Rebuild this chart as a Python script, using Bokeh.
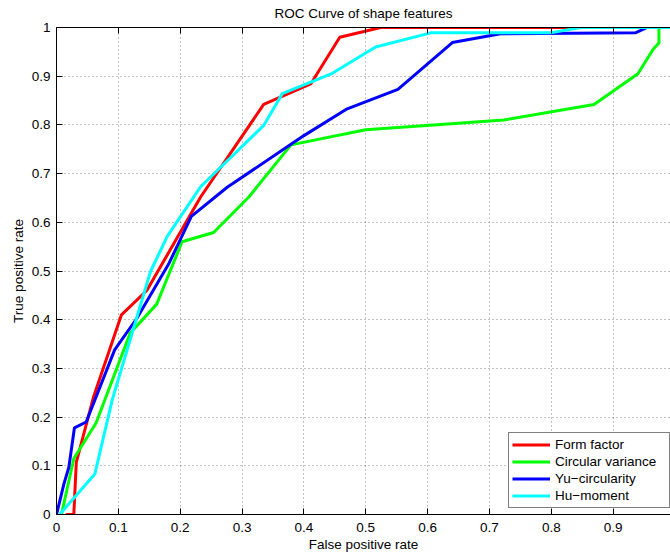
from bokeh.plotting import figure
from bokeh.models import (FixedTicker, NumeralTickFormatter, LinearAxis, Range1d,
                          Legend, LegendItem, CustomJSTickFormatter)
from bokeh.embed import file_html
from bokeh.resources import INLINE

# ---- data ----
form_fpr = [0.015, 0.028, 0.032, 0.06, 0.105, 0.146, 0.233, 0.335, 0.411, 0.458, 0.524, 1.0]
form_tpr = [0.0, 0.0, 0.107, 0.242, 0.41, 0.46, 0.652, 0.842, 0.884, 0.98, 1.0, 1.0]

circ_fpr = [0.008, 0.028, 0.064, 0.119, 0.162, 0.203, 0.254, 0.311, 0.379, 0.5, 0.621,
            0.723, 0.869, 0.94, 0.965, 0.974, 0.974, 1.0]
circ_tpr = [0.0, 0.115, 0.188, 0.372, 0.432, 0.560, 0.579, 0.652, 0.759, 0.79, 0.801,
            0.81, 0.842, 0.905, 0.956, 0.968, 1.0, 1.0]

yu_fpr = [0.0, 0.012, 0.02, 0.029, 0.048, 0.094, 0.13, 0.182, 0.218, 0.276, 0.4, 0.47,
          0.552, 0.64, 0.718, 0.936, 0.955, 1.0]
yu_tpr = [0.0, 0.063, 0.097, 0.178, 0.19, 0.338, 0.403, 0.516, 0.612, 0.672, 0.778, 0.833,
          0.873, 0.969, 0.987, 0.989, 1.0, 1.0]

hu_fpr = [0.005, 0.062, 0.09, 0.152, 0.179, 0.233, 0.335, 0.365, 0.446, 0.516, 0.605,
          0.799, 0.847, 1.0]
hu_tpr = [0.0, 0.083, 0.235, 0.499, 0.571, 0.673, 0.799, 0.864, 0.906, 0.96, 0.989,
          0.989, 1.0, 1.0]

series_names = ["Form factor", "Circular variance", "Yu\u2212circularity", "Hu\u2212moment"]
series_colors = ["#ff0000", "#00ff00", "#0000ff", "#00ffff"]
tick_values = [0, 0.1, 0.2, 0.3, 0.4, 0.5, 0.6, 0.7, 0.8, 0.9, 1.0]

FONT = "Liberation Sans"
FS = "13.5px"

p = figure(width=670, height=554, output_backend="svg", toolbar_location=None,
           x_range=Range1d(0, 0.9927), y_range=Range1d(0, 1),
           min_border_left=56, min_border_right=0, min_border_top=27, min_border_bottom=40,
           title="ROC Curve of shape features")
p.outline_line_color = None
p.background_fill_color = "white"
p.border_fill_color = "white"

p.title.align = "center"
p.title.vertical_align = "top"
p.title.text_font = FONT
p.title.text_font_size = FS
p.title.text_font_style = "normal"
p.title.text_color = "black"

ticker = FixedTicker(ticks=tick_values)
fmt = NumeralTickFormatter(format="0.[0]")

for ax in (p.xaxis[0], p.yaxis[0]):
    ax.ticker = ticker
    ax.formatter = fmt
    ax.major_tick_in = 6
    ax.major_tick_out = 0
    ax.minor_tick_line_color = None
    ax.axis_line_color = "black"
    ax.major_tick_line_color = "black"
    ax.major_label_text_font = FONT
    ax.major_label_text_font_size = FS
    ax.major_label_text_color = "black"
    ax.axis_label_text_font = FONT
    ax.axis_label_text_font_size = FS
    ax.axis_label_text_font_style = "normal"
    ax.axis_label_text_color = "black"

p.xaxis.axis_label = "False positive rate"
p.yaxis.axis_label = "True positive rate"
p.xaxis.major_label_standoff = 8
p.xaxis.axis_label_standoff = 2
p.yaxis.major_label_standoff = 6
p.yaxis.axis_label_standoff = 3

top = LinearAxis(ticker=ticker, major_tick_in=6, major_tick_out=0,
                 minor_tick_line_color=None,
                 formatter=CustomJSTickFormatter(code="return '';"),
                 major_label_standoff=0, axis_line_color="black")
p.add_layout(top, "above")

for g in (p.xgrid[0], p.ygrid[0]):
    g.ticker = ticker
    g.grid_line_color = "#444444"
    g.grid_line_dash = "1 3"
    g.grid_line_width = 1
    g.grid_line_alpha = 0.65

renderers = []
data = [(form_fpr, form_tpr), (circ_fpr, circ_tpr), (yu_fpr, yu_tpr), (hu_fpr, hu_tpr)]
for (xs, ys), c in zip(data, series_colors):
    r = p.line(xs, ys, line_color=c, line_width=3)
    renderers.append(r)

legend = Legend(items=[LegendItem(label=n, renderers=[r]) for n, r in zip(series_names, renderers)],
                location=(452, 6))
legend.padding = 3
legend.margin = 0
legend.spacing = 0
legend.label_height = 17
legend.glyph_height = 17
legend.glyph_width = 38
legend.label_standoff = 5
legend.label_width = 111
legend.label_text_font = FONT
legend.label_text_font_size = FS
legend.label_text_color = "black"
legend.border_line_color = "black"
legend.border_line_width = 1
legend.background_fill_color = "white"
legend.background_fill_alpha = 1
p.add_layout(legend, "center")

open("out.html", "w").write(file_html(p, INLINE))
